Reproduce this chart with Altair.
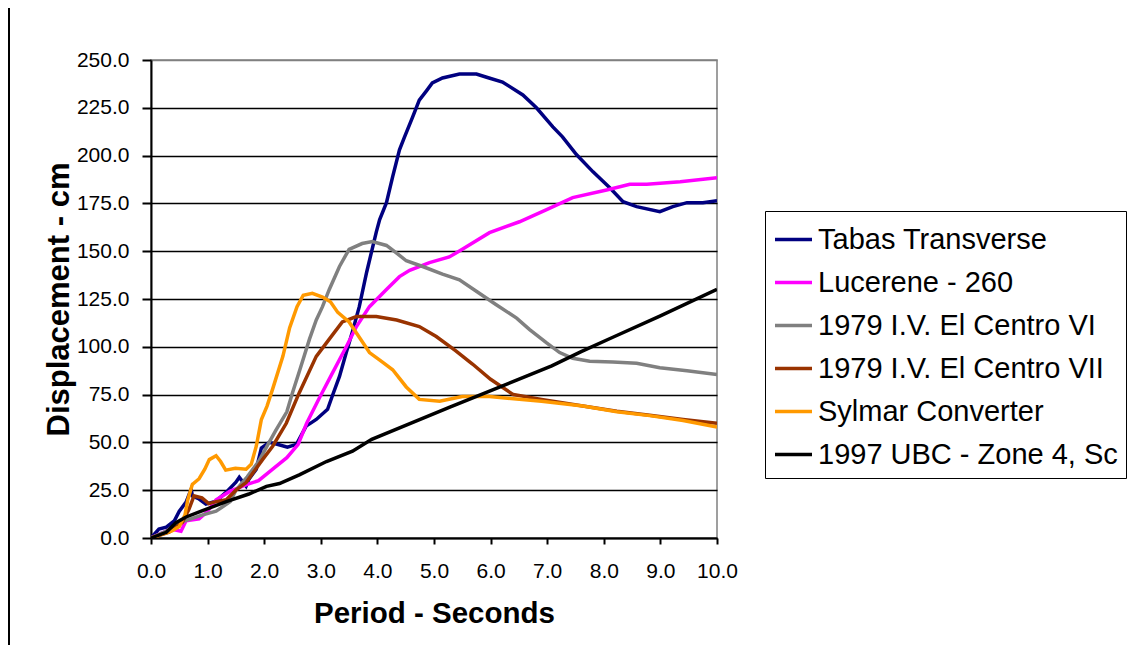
import altair as alt
import pandas as pd

series_names = ["Tabas Transverse", "Lucerene - 260", "1979 I.V. El Centro VI",
                "1979 I.V. El Centro VII", "Sylmar Converter", "1997 UBC - Zone 4, Sc"]
series_colors = ["#000080", "#FF00FF", "#808080", "#993300", "#FF9900", "#000000"]

tabas_x = [0.0, 0.14, 0.27, 0.41, 0.50, 0.62, 0.71, 0.73, 0.85, 0.97, 1.15, 1.33, 1.50, 1.56, 1.68,
           1.73, 1.86, 1.95, 2.09, 2.23, 2.41, 2.57, 2.74, 2.92, 3.12, 3.20, 3.33, 3.45, 3.56, 3.68,
           3.81, 3.98, 4.04, 4.16, 4.27, 4.39, 4.48, 4.62, 4.74, 4.87, 4.97, 5.15, 5.45, 5.75, 5.93,
           6.21, 6.57, 6.81, 7.10, 7.27, 7.52, 7.81, 8.11, 8.34, 8.58, 8.99, 9.22, 9.47, 9.75, 10.0]
tabas_y = [0, 4.7, 5.7, 8.9, 14, 18.8, 25.6, 22, 20.4, 17.7, 19.3, 24, 29.2, 31.8, 27.1,
           30.8, 36, 47, 50, 49, 47.5, 49, 58.5, 62, 67.3, 74, 84.5, 97, 108, 121,
           139, 160, 166.5, 175.4, 189, 203, 209.8, 220, 229, 234, 238, 240.6, 242.7, 242.7, 241,
           238.5, 231.7, 225, 215, 209.8, 200.4, 191.5, 183, 175.9, 173.3, 170.7, 173.3, 175.4, 175.4, 176.4]

luc_x = [0.0, 0.35, 0.53, 0.62, 0.85, 1.0, 1.15, 1.4, 1.7, 1.9, 2.15, 2.4, 2.6, 2.75, 2.97, 3.20,
         3.45, 3.63, 3.86, 4.16, 4.39, 4.57, 4.92, 5.27, 5.5, 5.98, 6.51, 6.99, 7.45, 8.05, 8.46,
         8.76, 9.35, 10.0]
luc_y = [0, 4.7, 3.5, 9, 10, 14, 20, 24.5, 28, 30, 36, 42, 49, 60, 73, 86,
         100, 110.6, 121, 130, 136.7, 140, 144, 147, 151, 159.7, 165.4, 171.7, 178, 182, 185,
         185, 186.3, 188.4]

vi_x = [0.0, 0.3, 0.6, 0.9, 1.15, 1.4, 1.5, 1.7, 1.9, 2.05, 2.2, 2.4, 2.5, 2.63, 2.8, 2.92, 3.03,
        3.15, 3.33, 3.5, 3.73, 3.91, 4.16, 4.34, 4.51, 4.8, 5.15, 5.45, 5.8, 6.1, 6.46, 6.69, 6.99,
        7.22, 7.45, 7.75, 8.16, 8.58, 8.99, 9.47, 10.0]
vi_y = [0, 4, 9, 12, 14, 19, 25, 32, 40, 48, 56, 66, 76, 88, 104, 114, 121,
        130, 142, 151, 154, 155, 153, 149, 145, 142, 138, 135, 128, 122, 115, 109, 102,
        97, 94, 92.5, 92, 91.4, 89, 87.5, 85.5]

vii_x = [0.0, 0.32, 0.55, 0.67, 0.76, 0.9, 1.02, 1.15, 1.33, 1.5, 1.68, 1.8, 1.97, 2.15, 2.39,
         2.62, 2.92, 3.15, 3.38, 3.63, 3.98, 4.34, 4.74, 5.04, 5.38, 5.68, 6.0, 6.4, 6.9, 7.63,
         8.23, 8.81, 9.4, 10.0]
vii_y = [0, 3, 8, 15, 22, 21, 18, 19, 20, 25, 29, 34, 41, 48, 60,
         76, 95, 104, 113, 115.8, 115.8, 114, 110.6, 105.4, 98, 91, 83, 75, 72.5, 69,
         66.3, 64.2, 62, 60]

syl_x = [0.0, 0.37, 0.5, 0.6, 0.65, 0.73, 0.85, 0.95, 1.03, 1.15, 1.23, 1.32, 1.49, 1.68, 1.77,
         1.86, 1.95, 2.05, 2.15, 2.33, 2.45, 2.58, 2.69, 2.85, 3.03, 3.17, 3.3, 3.5, 3.68, 3.86,
         4.09, 4.27, 4.51, 4.74, 5.1, 5.5, 5.98, 6.9, 7.63, 8.23, 8.81, 9.4, 10.0]
syl_y = [0, 3.7, 6, 12, 20, 28, 31, 36, 41, 43, 40, 35.5, 36.5, 36, 38.5,
         48, 62, 69, 78, 95, 110, 121, 127, 128, 126, 123.5, 118, 113, 105, 97,
         92, 88, 79, 72.5, 71.5, 74, 74, 71.5, 69, 66, 64, 61.5, 58]

ubc_x = [0.0, 0.27, 0.44, 0.62, 0.97, 1.33, 1.73, 2.04, 2.27, 2.62, 3.1, 3.56, 3.9, 5.28, 6.19,
         7.08, 7.6, 8.16, 8.99, 10.0]
ubc_y = [0, 3, 8, 11, 15, 19, 23, 27, 28.5, 33, 40, 45.4, 51.6, 68.4, 79.3,
         90, 97.5, 105, 116, 130]

x_ticks = [0, 1, 2, 3, 4, 5, 6, 7, 8, 9, 10]
y_ticks = [0, 25, 50, 75, 100, 125, 150, 175, 200, 225, 250]

all_series = [(tabas_x, tabas_y), (luc_x, luc_y), (vi_x, vi_y),
              (vii_x, vii_y), (syl_x, syl_y), (ubc_x, ubc_y)]
rows = []
for idx, (name, (xs, ys)) in enumerate(zip(series_names, all_series)):
    for i, (xv, yv) in enumerate(zip(xs, ys)):
        rows.append({"series": name, "period": xv, "disp": yv, "ord": idx, "i": i})
df = pd.DataFrame(rows)

FONT = "Liberation Sans"

lines = alt.Chart(df).mark_line(strokeWidth=3.5, clip=True).encode(
    x=alt.X("period:Q", scale=alt.Scale(domain=[0, 10], nice=False),
            axis=alt.Axis(values=x_ticks, format=".1f", title="Period - Seconds", grid=False,
                          tickSize=6, labelPadding=16, titlePadding=18)),
    y=alt.Y("disp:Q", scale=alt.Scale(domain=[0, 250], nice=False),
            axis=alt.Axis(values=y_ticks, format=".1f", title="Displacement - cm",
                          tickSize=9, labelPadding=13, titlePadding=1,
                          gridColor={"condition": {"test": "datum.value >= 250", "value": "#808080"},
                                     "value": "#000000"},
                          gridWidth=1.6)),
    color=alt.Color("series:N", scale=alt.Scale(domain=series_names, range=series_colors),
                    legend=alt.Legend(title=None, orient="none", legendX=614, legendY=151,
                                      symbolType="stroke", symbolSize=1369, symbolStrokeWidth=3.5,
                                      labelFontSize=29, labelFont=FONT, labelColor="black",
                                      strokeColor="black", padding=8, rowPadding=7,
                                      labelOffset=4, labelLimit=500)),
    order=alt.Order("i:Q"),
    detail="ord:N",
)

frame = alt.Chart(pd.DataFrame({"a": [0]})).mark_rule(color="black", strokeWidth=2).encode(
    x=alt.value(-142), y=alt.value(-60), y2=alt.value(640)
)

chart = alt.layer(frame, lines).properties(
    width=566, height=478,
    padding={"left": 143, "top": 52, "right": 413, "bottom": 107},
    autosize=alt.AutoSizeParams(type="none"),
).configure_view(
    stroke="#808080", strokeWidth=1.5
).configure_axis(
    labelFont=FONT, labelFontSize=21, labelColor="black",
    titleFont=FONT, titleFontSize=31, titleFontWeight="bold", titleColor="black",
    domainColor="black", domainWidth=2, tickColor="black", tickWidth=2,
    labelFlush=False, labelOverlap=False,
).configure_axisX(
    titleFontSize=29.5,
)

chart.save("out.html", embed_options={"renderer": "svg", "actions": False})
